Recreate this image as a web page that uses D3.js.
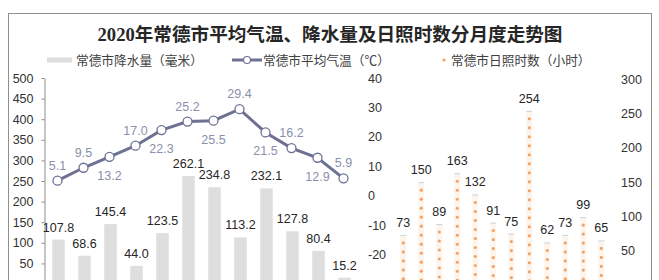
<!DOCTYPE html>
<html>
<head>
<meta charset="utf-8">
<script src="https://cdn.jsdelivr.net/npm/d3@7"></script>
<style>
    body { margin: 0; background: #fff; }
    svg { display: block; }
    .axis text { font: 12.5px "Liberation Sans", Arial, sans-serif; fill: #333; }
    .axis path, .axis line { stroke: #8c8c8c; }
</style>
</head>
<body>
<div id="chart"></div>
<script>
// ---- data ----
var months = ["1月", "2月", "3月", "4月", "5月", "6月", "7月", "8月", "9月", "10月", "11月", "12月"];
var rain = [107.8, 68.6, 145.4, 44.0, 123.5, 262.1, 234.8, 113.2, 232.1, 127.8, 80.4, 15.2];
var temp = [5.1, 9.5, 13.2, 17.0, 22.3, 25.2, 25.5, 29.4, 21.5, 16.2, 12.9, 5.9];
var sun = [73, 150, 89, 163, 132, 91, 75, 254, 62, 73, 99, 65];

var rainTicks = [0, 50, 100, 150, 200, 250, 300, 350, 400, 450, 500];
var tempTicks = [-30, -20, -10, 0, 10, 20, 30, 40];
var sunTicks = [0, 50, 100, 150, 200, 250, 300];

var legendNames = ["常德市降水量（毫米）", "常德市平均气温（℃）", "常德市日照时数（小时）"];
var title = "2020年常德市平均气温、降水量及日照时数分月度走势图";

var width = 659, height = 280;
var lineColor = "#6d7192", tempTextColor = "#8a90ac", barColor = "#dedede", sunColor = "#f2a366";

// plain hyphen minus, like the original
var plain = function(d) { return String(d); };

var svg = d3.select("#chart").append("svg")
    .attr("width", width)
    .attr("height", height);

// outer frame
svg.append("rect")
    .attr("x", 8.5).attr("y", 13.5)
    .attr("width", 643).attr("height", 300)
    .attr("fill", "none")
    .attr("stroke", "#8f8f8f");

// title
svg.append("text")
    .attr("x", 330).attr("y", 41)
    .attr("text-anchor", "middle")
    .style("font", "bold 18.6px 'Liberation Serif', 'Noto Sans CJK SC', serif")
    .style("fill", "#262626")
    .text(title);

// scales
var x = d3.scaleBand().domain(months).range([45.5, 357.5]).paddingInner(0.52).paddingOuter(0.26);
var yRain = d3.scaleLinear().domain([0, 500]).range([284, 78]);
var yTemp = d3.scaleLinear().domain([-30, 40]).range([284, 78]);
var xSun = d3.scaleBand().domain(months).range([394.3, 610.3]).padding(0);
var ySun = d3.scaleLinear().domain([0, 300]).range([285, 79.3]);

// axes
svg.append("g")
    .attr("class", "axis")
    .attr("transform", "translate(44.5,0)")
    .call(d3.axisLeft(yRain).tickValues(rainTicks).tickFormat(plain)
        .tickSize(3).tickSizeOuter(0).tickPadding(8));

var tempAxis = svg.append("g")
    .attr("class", "axis")
    .attr("transform", "translate(368,0)")
    .call(d3.axisRight(yTemp).tickValues(tempTicks).tickFormat(plain).tickSize(0).tickPadding(0));
tempAxis.select(".domain").remove();

var sunAxis = svg.append("g")
    .attr("class", "axis")
    .attr("transform", "translate(621,0)")
    .call(d3.axisRight(ySun).tickValues(sunTicks).tickFormat(plain).tickSize(0).tickPadding(0));
sunAxis.select(".domain").remove();

// rain bars
svg.append("g").selectAll("rect")
    .data(rain)
    .enter().append("rect")
    .attr("x", function(d, i) { return x(months[i]); })
    .attr("y", function(d) { return yRain(d); })
    .attr("width", x.bandwidth())
    .attr("height", function(d) { return yRain(0) - yRain(d); })
    .attr("fill", barColor);

svg.append("g").selectAll("text")
    .data(rain)
    .enter().append("text")
    .attr("x", function(d, i) { return x(months[i]) + x.bandwidth() / 2; })
    .attr("y", function(d) { return yRain(d) - 8; })
    .attr("text-anchor", "middle")
    .style("font", "12.5px 'Liberation Sans', Arial, sans-serif")
    .style("fill", "#262626")
    .text(function(d) { return d.toFixed(1); });

// temperature line
var cx = function(i) { return x(months[i]) + x.bandwidth() / 2 - 1; };
var line = d3.line()
    .x(function(d, i) { return cx(i); })
    .y(function(d) { return yTemp(d); });

svg.append("path")
    .datum(temp)
    .attr("d", line)
    .attr("fill", "none")
    .attr("stroke", lineColor)
    .attr("stroke-width", 3);

svg.append("g").selectAll("circle")
    .data(temp)
    .enter().append("circle")
    .attr("cx", function(d, i) { return cx(i); })
    .attr("cy", function(d) { return yTemp(d); })
    .attr("r", 4.5)
    .attr("fill", "#fff")
    .attr("stroke", lineColor)
    .attr("stroke-width", 1.3);

svg.append("g").selectAll("text")
    .data(temp)
    .enter().append("text")
    .attr("x", function(d, i) { return cx(i); })
    .attr("y", function(d, i) {
        var below = i > 0 && i % 2 === 0;   // labels alternate around the line
        return below ? yTemp(d) + 23 : yTemp(d) - 11;
    })
    .attr("text-anchor", "middle")
    .style("font", "12.5px 'Liberation Sans', Arial, sans-serif")
    .style("fill", tempTextColor)
    .text(function(d) { return d.toFixed(1); });

// sunshine columns, drawn as stacked dots
var sunG = svg.append("g");
sun.forEach(function(d, i) {
    var c = xSun(months[i]) + xSun.bandwidth() / 2;
    var top = ySun(d);
    sunG.append("rect")
        .attr("x", c - 3).attr("y", top)
        .attr("width", 6).attr("height", ySun(0) - top)
        .attr("fill", "#fdf4ec");
    sunG.append("line")
        .attr("x1", c - 3).attr("x2", c + 3)
        .attr("y1", top + 0.5).attr("y2", top + 0.5)
        .attr("stroke", "#c9d2e2");
    for (var yy = top + 8; yy < height + 10; yy += 9) {
        sunG.append("circle")
            .attr("cx", c).attr("cy", yy)
            .attr("r", 1.6)
            .attr("fill", sunColor);
    }
    sunG.append("text")
        .attr("x", c).attr("y", top - 8)
        .attr("text-anchor", "middle")
        .style("font", "12.5px 'Liberation Sans', Arial, sans-serif")
        .style("fill", "#262626")
        .text(d);
});

// legend
var legend = svg.append("g")
    .style("font", "12.7px 'Noto Sans CJK SC', sans-serif")
    .style("fill", "#404040");

legend.append("rect")
    .attr("x", 47).attr("y", 57.5).attr("width", 25).attr("height", 5)
    .attr("fill", barColor);
legend.append("text").attr("x", 76).attr("y", 65).text(legendNames[0]);

legend.append("line")
    .attr("x1", 232).attr("x2", 262).attr("y1", 60).attr("y2", 60)
    .attr("stroke", lineColor).attr("stroke-width", 3);
legend.append("circle")
    .attr("cx", 247).attr("cy", 60).attr("r", 3.5)
    .attr("fill", "#fff").attr("stroke", lineColor).attr("stroke-width", 1.2);
legend.append("text").attr("x", 263).attr("y", 65).text(legendNames[1]);

legend.append("circle")
    .attr("cx", 444).attr("cy", 60).attr("r", 1.6)
    .attr("fill", sunColor);
legend.append("text").attr("x", 451).attr("y", 65).text(legendNames[2]);
</script>
</body>
</html>
